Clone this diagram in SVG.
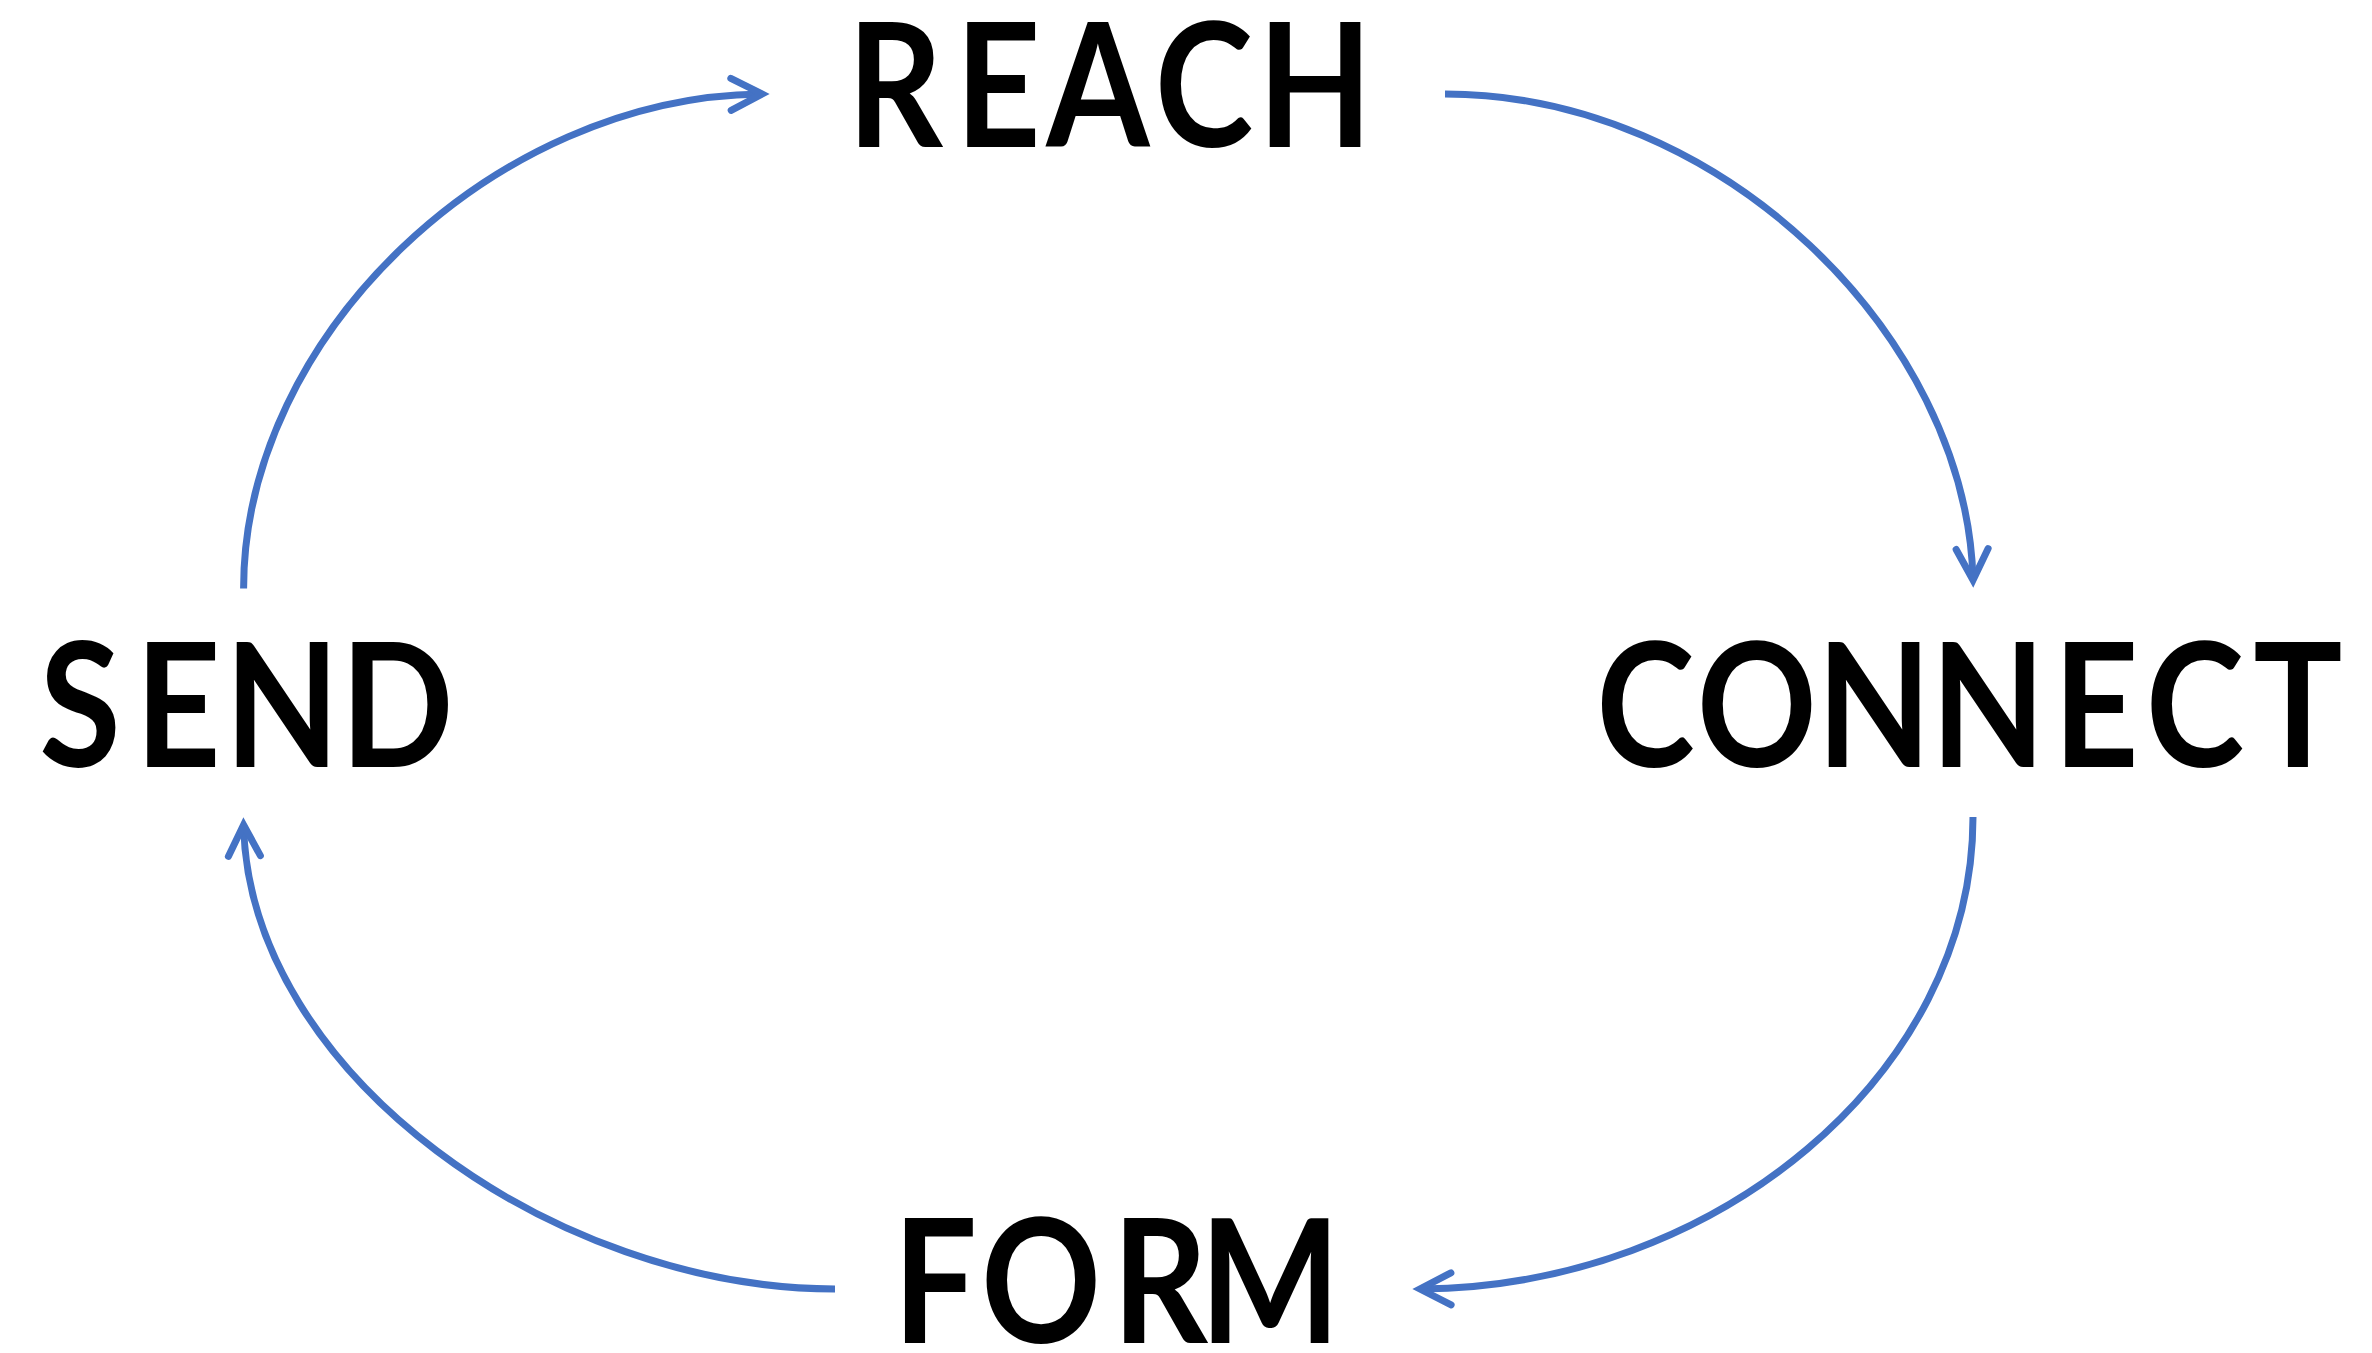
<svg xmlns="http://www.w3.org/2000/svg" width="2372" height="1353" viewBox="0 0 2372 1353">
  <style>
    .label { font-family: Lato, "Open Sans", "Liberation Sans", sans-serif; font-weight: 700; font-size: 173px; fill: #000000; text-anchor: middle; }
    .flow { fill: none; stroke: #4472C4; stroke-width: 7; marker-end: url(#head); }
  </style>
  <defs>
    <!-- open chevron head, tip sits a few px past the path end -->
    <marker id="head" markerUnits="userSpaceOnUse" viewBox="-44 -26 52 52" refX="0" refY="0" markerWidth="52" markerHeight="52" orient="auto" overflow="visible">
      <path d="M-30,-16 L1,0 L-30,16" fill="none" stroke="#4472C4" stroke-width="7" stroke-linecap="round" stroke-linejoin="miter" stroke-miterlimit="10"/>
    </marker>
  </defs>

  <rect x="0" y="0" width="2372" height="1353" fill="#ffffff"/>

  <!-- cycle arrows -->
  <g id="connectors">
    <path class="flow" d="M243.6,588.5 C243.6,335 495,97 761,94"/>
    <path class="flow" d="M1445,94 C1720,94 1966,335 1973,579"/>
    <path class="flow" d="M1973,817 C1973,1075 1715,1287 1421,1289"/>
    <path class="flow" d="M835,1289 C555,1289 250,1075 243.6,826"/>
  </g>

  <!-- labels: glyphs narrowed to a condensed width -->
  <g id="reach" transform="scale(0.86,1)">
    <text class="label" x="1040.7 1160.5 1276.7 1400 1529.1" y="147">REACH</text>
  </g>
  <g id="connect" transform="scale(0.86,1)">
    <text class="label" x="1913.4 2043 2179.1 2311.6 2437.2 2552.3 2672.1" y="767">CONNECT</text>
  </g>
  <g id="form" transform="scale(0.86,1)">
    <text class="label" x="1087.2 1210.5 1348.8 1476.7" y="1343">FORM</text>
  </g>
  <g id="send" transform="scale(0.86,1)">
    <text class="label" x="93 207 327.9 461.6" y="767">SEND</text>
  </g>
</svg>
